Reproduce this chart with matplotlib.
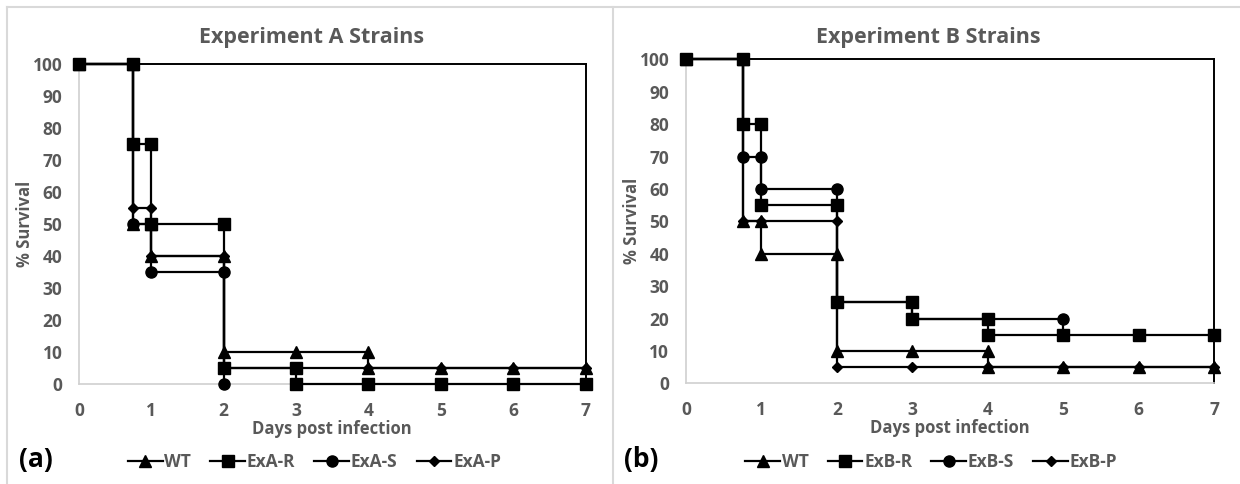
import matplotlib
matplotlib.use("Agg")
import matplotlib.pyplot as plt
from matplotlib.lines import Line2D

plt.rcParams['font.family'] = ['Open Sans', 'DejaVu Sans']

# survival curves, drawn as step points (day, % survival)
days_wt_a = [0, 0.75, 0.75, 1, 1, 2, 2, 3, 4, 4, 5, 6, 7]
surv_wt_a = [100, 100, 50, 50, 40, 40, 10, 10, 10, 5, 5, 5, 5]
days_r_a = [0, 0.75, 0.75, 1, 1, 2, 2, 3, 3, 4, 5, 6, 7]
surv_r_a = [100, 100, 75, 75, 50, 50, 5, 5, 0, 0, 0, 0, 0]
days_s_a = [0, 0.75, 0.75, 1, 1, 2, 2]
surv_s_a = [100, 100, 50, 50, 35, 35, 0]
days_p_a = [0, 0.75, 0.75, 1, 1, 2, 2, 3, 4, 5, 6, 7]
surv_p_a = [100, 100, 55, 55, 40, 40, 5, 5, 5, 5, 5, 5]

days_wt_b = [0, 0.75, 0.75, 1, 1, 2, 2, 3, 4, 4, 5, 6, 7]
surv_wt_b = [100, 100, 50, 50, 40, 40, 10, 10, 10, 5, 5, 5, 5]
days_r_b = [0, 0.75, 0.75, 1, 1, 2, 2, 3, 3, 4, 4, 5, 6, 7]
surv_r_b = [100, 100, 80, 80, 55, 55, 25, 25, 20, 20, 15, 15, 15, 15]
days_s_b = [0, 0.75, 0.75, 1, 1, 2, 2, 3, 3, 4, 5, 5]
surv_s_b = [100, 100, 70, 70, 60, 60, 25, 25, 20, 20, 20, 15]
days_p_b = [0, 0.75, 0.75, 1, 2, 2, 3, 4, 5, 6, 7]
surv_p_b = [100, 100, 50, 50, 50, 5, 5, 5, 5, 5, 5]

labels_a = ["WT", "ExA-R", "ExA-S", "ExA-P"]
labels_b = ["WT", "ExB-R", "ExB-S", "ExB-P"]
markers = ['^', 's', 'o', 'D']
msizes = [8.5, 8.5, 8, 5]

gray = '#595959'

fig = plt.figure(figsize=(12.4, 4.84), dpi=100)
ax_a = fig.add_axes([0.0637, 0.2066, 0.4085, 0.6612])
ax_b = fig.add_axes([0.5532, 0.208, 0.4258, 0.6695])

# (axes, title, legend labels, panel tag, tag x, chart-area centre x, series)
panels = [
    (ax_a, "Experiment A Strains", labels_a, "(a)", 0.015, 0.2516,
     [(days_wt_a, surv_wt_a), (days_r_a, surv_r_a), (days_s_a, surv_s_a), (days_p_a, surv_p_a)]),
    (ax_b, "Experiment B Strains", labels_b, "(b)", 0.503, 0.749,
     [(days_wt_b, surv_wt_b), (days_r_b, surv_r_b), (days_s_b, surv_s_b), (days_p_b, surv_p_b)]),
]

for ax, title, labels, tag, tag_x, cx, series in panels:
    handles = []
    for (x, y), lab, mk, ms in zip(series, labels, markers, msizes):
        h, = ax.plot(x, y, color='black', lw=1.6, marker=mk, ms=ms,
                     mfc='black', mec='black', label=lab, clip_on=False, zorder=3)
        handles.append(h)
    ax.set_xlim(0, 7)
    ax.set_ylim(0, 100)
    ax.set_xticks(range(0, 8))
    ax.set_yticks(range(0, 101, 10))
    ax.tick_params(length=0, labelsize=12.5, labelcolor=gray)
    ax.tick_params(axis='x', pad=13)
    ax.tick_params(axis='y', pad=12)
    for lbl in ax.get_xticklabels() + ax.get_yticklabels():
        lbl.set_fontweight('bold')
    for side in ('left', 'bottom'):
        ax.spines[side].set_color('#d0d0d0')
        ax.spines[side].set_linewidth(1.2)
    for side in ('top', 'right'):
        ax.spines[side].set_color('black')
        ax.spines[side].set_linewidth(1.4)
    ax.set_xlabel("Days post infection", fontsize=12, fontweight='bold', color=gray, labelpad=0)
    ax.set_ylabel("% Survival", fontsize=12, fontweight='bold', color=gray, labelpad=-1)

    fig.text(cx, 0.9215, title, fontsize=15.5, fontweight='bold', color=gray,
             ha='center', va='center')
    ax.legend(handles=handles, loc='center', ncol=4, frameon=False,
              bbox_to_anchor=(cx + 0.002, 0.045), bbox_transform=fig.transFigure,
              handlelength=2.0, handletextpad=0.1, columnspacing=1.1,
              labelcolor=gray, prop={'weight': 'bold', 'size': 12.5})
    fig.text(tag_x, 0.05, tag, fontsize=19, fontweight='bold', color='black', va='center')

# panel frames
frame = dict(color='#d9d9d9', lw=1.5, transform=fig.transFigure)
fig.add_artist(Line2D([0.0056, 1.0], [0.9855, 0.9855], **frame))
fig.add_artist(Line2D([0.0056, 0.0056], [0.0, 0.9855], **frame))
fig.add_artist(Line2D([0.4944, 0.4944], [0.0, 0.9855], **frame))

fig.savefig("out.png", dpi=100)
